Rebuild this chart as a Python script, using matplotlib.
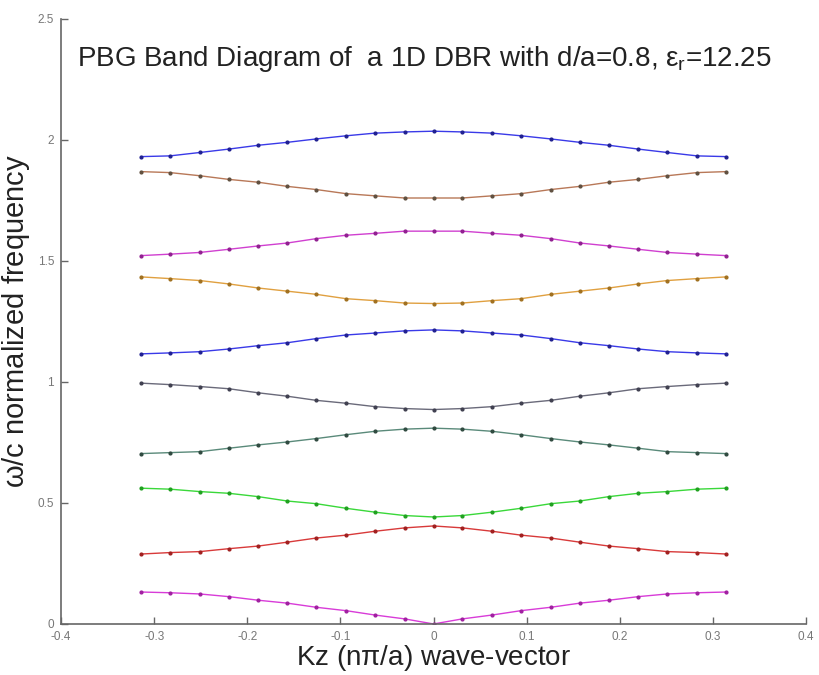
import matplotlib.pyplot as plt
import numpy as np

## 字体
plt.rcParams['font.family'] = ['Liberation Sans', 'DejaVu Sans']
plt.rcParams['mathtext.fontset'] = 'custom'
plt.rcParams['mathtext.rm'] = 'Liberation Sans'
plt.rcParams['mathtext.it'] = 'Liberation Sans'

## 波矢 (21 个点)
kz = [-0.314, -0.283, -0.251, -0.220, -0.188, -0.157, -0.126, -0.094, -0.063, -0.031, 0.0,
      0.031, 0.063, 0.094, 0.126, 0.157, 0.188, 0.220, 0.251, 0.283, 0.314]

## 每条能带的一半 (从 kz=-0.314 到 0)，另一半对称
band1 = [0.132, 0.129, 0.124, 0.113, 0.098, 0.086, 0.069, 0.055, 0.037, 0.021, 0.000]
band2 = [0.289, 0.295, 0.299, 0.311, 0.322, 0.338, 0.355, 0.367, 0.383, 0.397, 0.405]
band3 = [0.561, 0.557, 0.547, 0.540, 0.526, 0.508, 0.497, 0.478, 0.462, 0.448, 0.442]
band4 = [0.704, 0.708, 0.712, 0.726, 0.740, 0.752, 0.766, 0.782, 0.796, 0.805, 0.809]
band5 = [0.995, 0.989, 0.981, 0.972, 0.955, 0.941, 0.924, 0.912, 0.898, 0.890, 0.886]
band6 = [1.116, 1.120, 1.125, 1.136, 1.150, 1.162, 1.179, 1.194, 1.202, 1.211, 1.215]
band7 = [1.434, 1.427, 1.419, 1.405, 1.388, 1.375, 1.362, 1.344, 1.336, 1.326, 1.324]
band8 = [1.522, 1.528, 1.535, 1.548, 1.562, 1.574, 1.592, 1.606, 1.614, 1.623, 1.623]
band9 = [1.869, 1.865, 1.852, 1.837, 1.825, 1.808, 1.795, 1.778, 1.769, 1.760, 1.760]
band10 = [1.931, 1.934, 1.948, 1.962, 1.978, 1.990, 2.004, 2.017, 2.028, 2.033, 2.036]

bands = [band1, band2, band3, band4, band5, band6, band7, band8, band9, band10]
colors = ['#d83cd8', '#d83a3a', '#3ad83a', '#5a8a7a', '#6a6a7a',
          '#3a3ae8', '#e0a040', '#d040d0', '#b87858', '#3a3ae8']
mcolors = ['#a020a0', '#a02020', '#20a020', '#304a40', '#404050',
           '#202090', '#a07020', '#902090', '#605040', '#202090']

xticks = [-0.4, -0.3, -0.2, -0.1, 0, 0.1, 0.2, 0.3, 0.4]
xticklabels = ['-0.4', '-0.3', '-0.2', '-0.1', '0', '0.1', '0.2', '0.3', '0.4']
yticks = [0, 0.5, 1, 1.5, 2, 2.5]
yticklabels = ['0', '0.5', '1', '1.5', '2', '2.5']

fig = plt.figure(figsize=(8.2, 6.75), dpi=100)
ax = fig.add_axes([0.0744, 0.0756, 0.9086, 0.8964])

for b, c, mc in zip(bands, colors, mcolors):
    ## 对称补全
    full = b + b[-2::-1]
    ax.plot(kz, full, '-', color=c, lw=1.0, marker='.', ms=4,
            mfc=mc, mec=mc)

ax.set_xlim(-0.4, 0.4)
ax.set_ylim(0, 2.5)
ax.set_xticks(xticks)
ax.set_xticklabels(xticklabels)
ax.set_yticks(yticks)
ax.set_yticklabels(yticklabels)

for s in ['top', 'right']:
    ax.spines[s].set_visible(False)
for s in ['left', 'bottom']:
    ax.spines[s].set_color('#666666')
    ax.spines[s].set_linewidth(1.2)
ax.tick_params(direction='in', length=5, width=1, colors='#666666',
               labelsize=8.5, labelcolor='#777777', pad=5)

ax.set_xlabel(r'Kz (n$\pi$/a) wave-vector', fontsize=20, color='#222222', labelpad=0)
ax.set_ylabel(r'$\omega$/c normalized frequency', fontsize=21, color='#222222', labelpad=4)

ax.text(-0.383, 2.335, r'PBG Band Diagram of  a 1D DBR with d/a=0.8, $\varepsilon_{\rm r}$=12.25',
        fontsize=20, color='#222222', va='center', ha='left')

fig.savefig('out.png', dpi=100)
